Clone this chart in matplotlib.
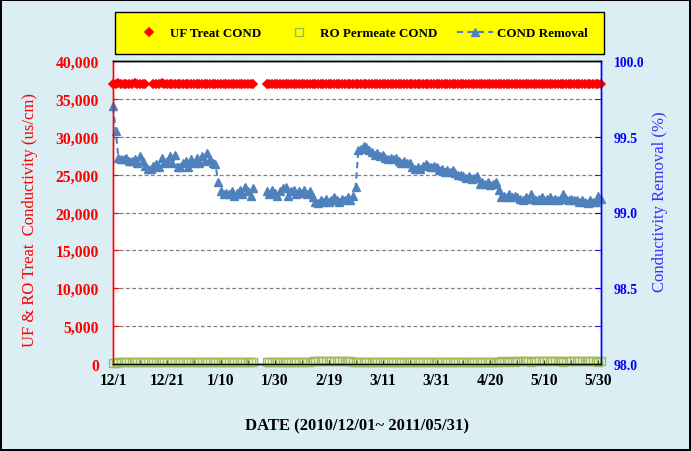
import matplotlib
matplotlib.use("Agg")
import matplotlib.pyplot as plt
import matplotlib.ticker as mticker
import matplotlib.dates as mdates
from matplotlib.patches import Rectangle
import numpy as np
import pandas as pd

nan = np.nan

# daily readings 2010/12/01 .. 2011/05/31
dates = pd.date_range("2010-12-01", "2011-05-31", freq="D")

uf_cond = [
    37000, 36950, 37050, 37000, 36980, 37020, 37000, 36960, 37040, 37000,
    37010, 36990, 37000, nan, nan, 37010, 37000, 36970, 37030, 37000,
    36990, 37010, 37000, 36980, 37020, 37000, 36990, 37010, 37000, 36980,
    37020, 37000, 36990, 37010, 37000, 36980, 37000, 37020, 37000, 36990,
    37010, 37000, 36980, 37020, 37000, 36990, 37010, 37000, 36980, 37000,
    37020, 37000, 36990, nan, nan, nan, nan, 37000, 37010, 36990,
    37000, 37020, 36980, 37000, 37010, 36990, 37000, 37020, 36980, 37000,
    37010, 36990, 37000, 37020, 36980, 37000, 37010, 36990, 37000, 37020,
    36980, 37000, 37010, 36990, 37000, 37020, 36980, 37000, 37010, 36990,
    37000, 37020, 36980, 37000, 37010, 36990, 37000, 37020, 36980, 37000,
    37010, 36990, 37000, 37020, 36980, 37000, 37010, 36990, 37000, 37020,
    36980, 37000, 37010, 36990, 37000, 37020, 36980, 37000, 37010, 36990,
    37000, 37020, 36980, 37000, 37010, 36990, 37000, 37020, 36980, 37000,
    37010, 36990, 37000, 37020, 36980, 37000, 37010, 36990, 37000, 37020,
    36980, 37000, 37010, 36990, 37000, 37020, 36980, 37000, 37010, 36990,
    37000, 37020, 36980, 37000, 37010, 36990, 37000, 37020, 36980, 37000,
    37010, 36990, 37000, 37020, 36980, 37000, 37010, 36990, 37000, 37020,
    36980, 37000, 37010, 36990, 37000, 37020, 36980, 37000, 37010, 36990,
    37000, 37000,
]

ro_cond = [
    111, 170, 237, 241, 240, 237, 244, 244, 241, 248,
    233, 244, 255, 263, 262, 255, 252, 259, 237, 248,
    244, 233, 248, 229, 259, 259, 248, 244, 259, 241,
    248, 237, 248, 233, 244, 226, 241, 248, 252, 296,
    318, 326, 322, 326, 318, 329, 322, 315, 326, 307,
    318, 329, 311, nan, nan, nan, nan, 318, 326, 315,
    322, 329, 318, 311, 307, 329, 318, 315, 326, 318,
    322, 315, 326, 318, 333, 344, 348, 340, 344, 337,
    344, 340, 333, 340, 344, 337, 340, 333, 340, 329,
    307, 218, 215, 207, 211, 218, 222, 229, 226, 233,
    229, 237, 241, 237, 241, 237, 244, 248, 244, 248,
    248, 259, 263, 259, 263, 255, 252, 255, 259, 255,
    259, 266, 263, 270, 266, 270, 266, 274, 278, 278,
    281, 285, 281, 289, 285, 281, 300, 296, 300, 296,
    303, 300, 296, 315, 333, 329, 333, 326, 333, 329,
    333, 337, 340, 333, 337, 326, 337, 340, 337, 333,
    340, 337, 333, 340, 337, 340, 337, 326, 337, 340,
    337, 340, 340, 344, 340, 344, 348, 340, 344, 344,
    329, 337,
]

removal = [
    99.70, 99.54, 99.36, 99.35, 99.35, 99.36, 99.34, 99.34, 99.35, 99.33,
    99.37, 99.34, 99.31, 99.29, 99.29, 99.31, 99.32, 99.30, 99.36, 99.33,
    99.34, 99.37, 99.33, 99.38, 99.30, 99.30, 99.33, 99.34, 99.30, 99.35,
    99.33, 99.36, 99.33, 99.37, 99.34, 99.39, 99.35, 99.33, 99.32, 99.20,
    99.14, 99.12, 99.13, 99.12, 99.14, 99.11, 99.13, 99.15, 99.12, 99.17,
    99.14, 99.11, 99.16, nan, nan, nan, nan, 99.14, 99.12, 99.15,
    99.13, 99.11, 99.14, 99.16, 99.17, 99.11, 99.14, 99.15, 99.12, 99.14,
    99.13, 99.15, 99.12, 99.14, 99.10, 99.07, 99.06, 99.08, 99.07, 99.09,
    99.07, 99.08, 99.10, 99.08, 99.07, 99.09, 99.08, 99.10, 99.08, 99.11,
    99.17, 99.41, 99.42, 99.44, 99.43, 99.41, 99.40, 99.38, 99.39, 99.37,
    99.38, 99.36, 99.35, 99.36, 99.35, 99.36, 99.34, 99.33, 99.34, 99.33,
    99.33, 99.30, 99.29, 99.30, 99.29, 99.31, 99.32, 99.31, 99.30, 99.31,
    99.30, 99.28, 99.29, 99.27, 99.28, 99.27, 99.28, 99.26, 99.25, 99.25,
    99.24, 99.23, 99.24, 99.22, 99.23, 99.24, 99.19, 99.20, 99.19, 99.20,
    99.18, 99.19, 99.20, 99.15, 99.10, 99.11, 99.10, 99.12, 99.10, 99.11,
    99.10, 99.09, 99.08, 99.10, 99.09, 99.12, 99.09, 99.08, 99.09, 99.10,
    99.08, 99.09, 99.10, 99.08, 99.09, 99.08, 99.09, 99.12, 99.09, 99.08,
    99.09, 99.08, 99.08, 99.07, 99.08, 99.07, 99.06, 99.08, 99.07, 99.07,
    99.11, 99.09,
]

tick_labels = ["12/1", "12/21", "1/10", "1/30", "2/19",
               "3/11", "3/31", "4/20", "5/10", "5/30"]

serif = "Liberation Serif"
bg = "#DAEEF3"

fig = plt.figure(figsize=(6.91, 4.52), dpi=100)
fig.patch.set_facecolor(bg)
fig.patch.set_edgecolor("black")
fig.patch.set_linewidth(1.5)

ax = fig.add_axes([113 / 691, 1 - 365 / 452, 488 / 691, 303 / 452])
ax2 = ax.twinx()

# left axis: UF and RO conductivity
l_uf, = ax.plot(dates, uf_cond, ls="none", marker="D", ms=4.5, mew=1.2,
                color="red", clip_on=False, zorder=3)
l_ro, = ax.plot(dates, ro_cond, ls="none", marker="s", ms=5.5,
                mfc="none", mec="#9BBB59", mew=1.0, clip_on=False, zorder=3)

# right axis: removal %
l_rm, = ax2.plot(dates, removal, ls="--", dashes=(3, 2), lw=1.5,
                 color="#4F81BD", marker="^", ms=5.5, clip_on=False)

ax.set_xlim(dates[0], dates[-1])
ax.set_ylim(0, 40000)
ax2.set_ylim(98.0, 100.0)

ax.xaxis.set_major_locator(mticker.FixedLocator(mdates.date2num(dates[::20])))
ax.xaxis.set_major_formatter(mticker.FixedFormatter(tick_labels))
ax.xaxis.set_minor_locator(mticker.FixedLocator(mdates.date2num(dates[10::20])))

ax.yaxis.set_major_locator(mticker.MultipleLocator(5000))
ax.yaxis.set_major_formatter(mticker.FuncFormatter(lambda v, p: f"{int(v):,}"))
ax2.yaxis.set_major_locator(mticker.MultipleLocator(0.5))
ax2.yaxis.set_minor_locator(mticker.MultipleLocator(0.25))
ax2.yaxis.set_major_formatter(mticker.FormatStrFormatter("%.1f"))

ax.yaxis.grid(True, ls=(0, (3, 2)), color="#808080", lw=0.9)
ax.set_axisbelow(True)

ax.tick_params(axis="x", which="both", direction="in", length=3, color="black",
               pad=6, labelsize=11.2)
ax.tick_params(axis="y", direction="in", length=4, color="red",
               labelcolor="red", pad=10, labelsize=11.3)
ax2.tick_params(axis="y", which="both", direction="in", length=4, color="blue",
                labelcolor="blue", pad=9, labelsize=9.8)

for lab in ax.get_xticklabels() + ax.get_yticklabels() + ax2.get_yticklabels():
    lab.set_fontfamily(serif)
    lab.set_fontweight("bold")

for a in (ax, ax2):
    a.spines["left"].set_color("red")
    a.spines["right"].set_color("blue")
    a.spines["top"].set_color("black")
    a.spines["bottom"].set_color("black")
    for s in a.spines.values():
        s.set_linewidth(1.0)

ax.set_ylabel("UF & RO Treat  Conductivity (us/cm)", color="red",
              fontfamily=serif, fontsize=12)
ax.yaxis.set_label_coords((38 - 113) / 488, 0.479)
ax2.set_ylabel("Conductivity Removal (%)", color="#3333FF",
               fontfamily=serif, fontsize=12)
ax2.yaxis.set_label_coords((652 - 113) / 488, 0.538)
ax.set_xlabel("DATE (2010/12/01~ 2011/05/31)", fontfamily=serif,
              fontweight="bold", fontsize=12, labelpad=21)

# legend box
fig.add_artist(Rectangle((115 / 691, 1 - 55 / 452), 489 / 691, 42 / 452,
                         transform=fig.transFigure, facecolor="yellow",
                         edgecolor="black", lw=1.0, zorder=1))
fig.legend([l_uf, l_ro, l_rm], ["UF Treat COND", "RO Permeate COND", "COND Removal"],
           loc="center", bbox_to_anchor=(359 / 691, 1 - 34 / 452), ncol=3,
           frameon=False, numpoints=1, handlelength=2.8, handletextpad=0.25,
           columnspacing=1.45, prop={"family": serif, "weight": "bold", "size": 9.4})

fig.savefig("out.png", dpi=100)
